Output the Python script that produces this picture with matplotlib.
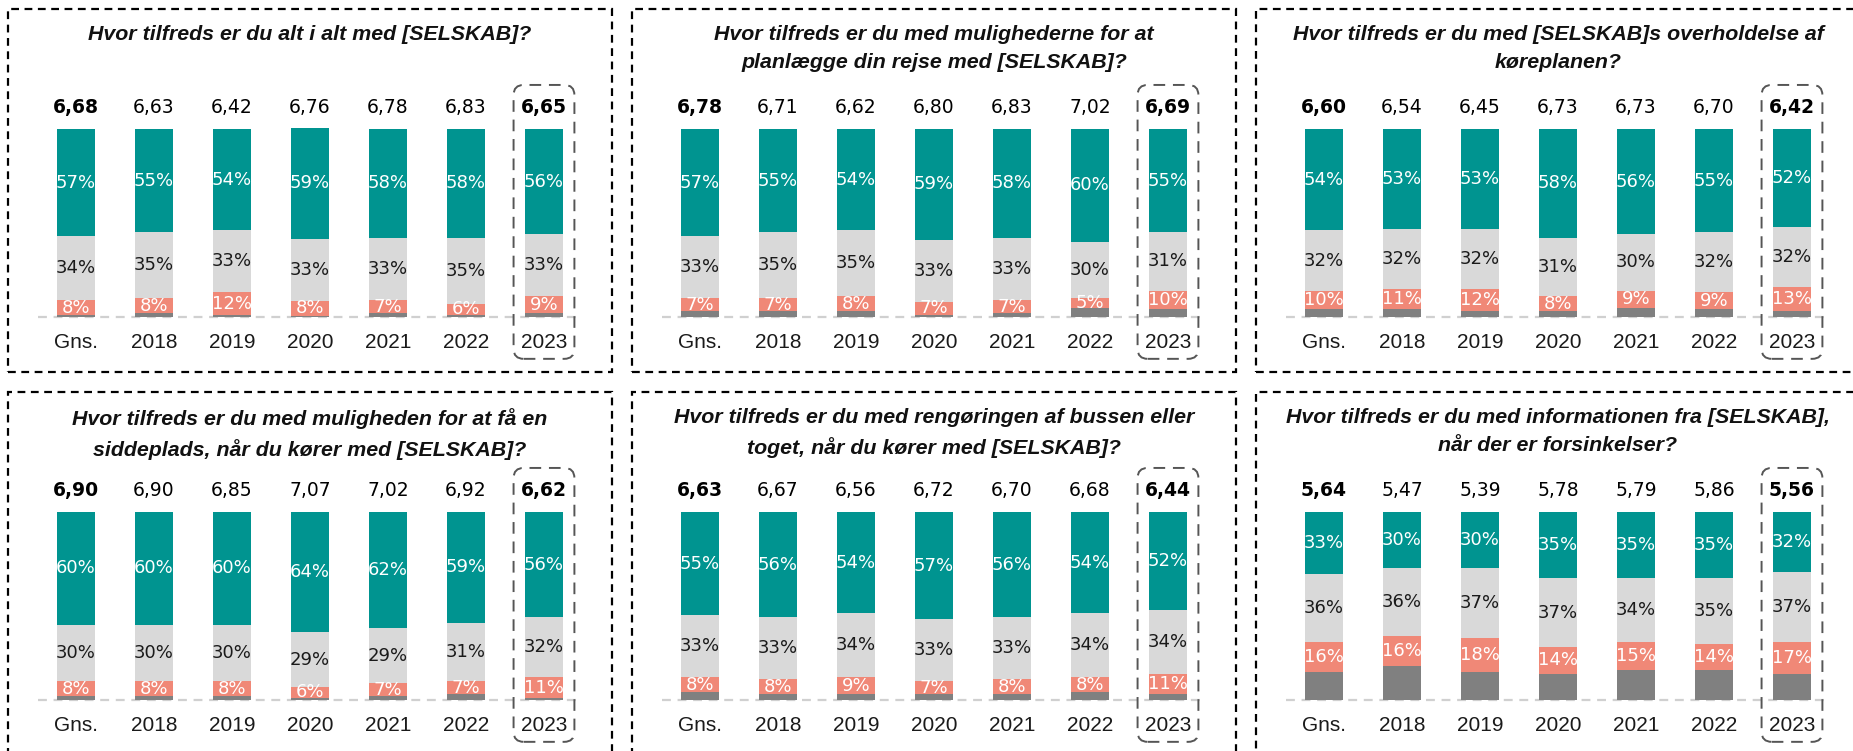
import matplotlib
matplotlib.use("Agg")
import matplotlib.pyplot as plt
from matplotlib.patches import Rectangle, FancyBboxPatch

# categories
years = ["Gns.", "2018", "2019", "2020", "2021", "2022", "2023"]

titles = [
    "Hvor tilfreds er du alt i alt med [SELSKAB]?",
    "Hvor tilfreds er du med mulighederne for at\nplanlægge din rejse med [SELSKAB]?",
    "Hvor tilfreds er du med [SELSKAB]s overholdelse af\nkøreplanen?",
    "Hvor tilfreds er du med muligheden for at få en\nsiddeplads, når du kører med [SELSKAB]?",
    "Hvor tilfreds er du med rengøringen af bussen eller\ntoget, når du kører med [SELSKAB]?",
    "Hvor tilfreds er du med informationen fra [SELSKAB],\nnår der er forsinkelser?",
]

# average score per bar
scores_1 = [6.68, 6.63, 6.42, 6.76, 6.78, 6.83, 6.65]
scores_2 = [6.78, 6.71, 6.62, 6.80, 6.83, 7.02, 6.69]
scores_3 = [6.60, 6.54, 6.45, 6.73, 6.73, 6.70, 6.42]
scores_4 = [6.90, 6.90, 6.85, 7.07, 7.02, 6.92, 6.62]
scores_5 = [6.63, 6.67, 6.56, 6.72, 6.70, 6.68, 6.44]
scores_6 = [5.64, 5.47, 5.39, 5.78, 5.79, 5.86, 5.56]

# satisfied (teal)
high_1 = [57, 55, 54, 59, 58, 58, 56]
high_2 = [57, 55, 54, 59, 58, 60, 55]
high_3 = [54, 53, 53, 58, 56, 55, 52]
high_4 = [60, 60, 60, 64, 62, 59, 56]
high_5 = [55, 56, 54, 57, 56, 54, 52]
high_6 = [33, 30, 30, 35, 35, 35, 32]

# neutral (light gray)
mid_1 = [34, 35, 33, 33, 33, 35, 33]
mid_2 = [33, 35, 35, 33, 33, 30, 31]
mid_3 = [32, 32, 32, 31, 30, 32, 32]
mid_4 = [30, 30, 30, 29, 29, 31, 32]
mid_5 = [33, 33, 34, 33, 33, 34, 34]
mid_6 = [36, 36, 37, 37, 34, 35, 37]

# dissatisfied (salmon)
low_1 = [8, 8, 12, 8, 7, 6, 9]
low_2 = [7, 7, 8, 7, 7, 5, 10]
low_3 = [10, 11, 12, 8, 9, 9, 13]
low_4 = [8, 8, 8, 6, 7, 7, 11]
low_5 = [8, 8, 9, 7, 8, 8, 11]
low_6 = [16, 16, 18, 14, 15, 14, 17]

# don't know (dark gray), unlabeled
dk_1 = [1, 2, 1, 0.5, 2, 1, 2]
dk_2 = [3, 3, 3, 1, 2, 5, 4]
dk_3 = [4, 4, 3, 3, 5, 4, 3]
dk_4 = [2, 2, 2, 1, 2, 3, 1]
dk_5 = [4, 3, 3, 3, 3, 4, 3]
dk_6 = [15, 18, 15, 14, 16, 16, 14]

panels = [
    (titles[0], scores_1, high_1, mid_1, low_1, dk_1),
    (titles[1], scores_2, high_2, mid_2, low_2, dk_2),
    (titles[2], scores_3, high_3, mid_3, low_3, dk_3),
    (titles[3], scores_4, high_4, mid_4, low_4, dk_4),
    (titles[4], scores_5, high_5, mid_5, low_5, dk_5),
    (titles[5], scores_6, high_6, mid_6, low_6, dk_6),
]

TEAL = "#009490"
LGRAY = "#d9d9d9"
SALMON = "#f08877"
DGRAY = "#808080"
NUMFONT = "DejaVu Sans"
W, H = 1853, 751

fig = plt.figure(figsize=(W / 100, H / 100), dpi=100)

col_left = [8, 632, 1256]
row_top = [9, 392]
pw, ph = 604, 363

for k, (title, scores, high, mid, low, dk) in enumerate(panels):
    L = col_left[k % 3]
    T = row_top[k // 3]
    ax = fig.add_axes([L / W, 1 - (T + ph) / H, pw / W, ph / H])
    ax.set_xlim(-0.872, 6.872)
    ax.set_ylim(-29.3, 163.8)
    ax.axis("off")

    x = range(len(years))
    ax.bar(x, dk, width=0.49, color=DGRAY, zorder=2)
    b1 = [d for d in dk]
    ax.bar(x, low, width=0.49, bottom=b1, color=SALMON, zorder=2)
    b2 = [d + l for d, l in zip(dk, low)]
    ax.bar(x, mid, width=0.49, bottom=b2, color=LGRAY, zorder=2)
    b3 = [b + m for b, m in zip(b2, mid)]
    ax.bar(x, high, width=0.49, bottom=b3, color=TEAL, zorder=2)

    for i in x:
        ax.text(i, b1[i] + low[i] / 2, f"{low[i]}%", ha="center", va="center",
                color="white", fontsize=13, family=NUMFONT, zorder=3)
        ax.text(i, b2[i] + mid[i] / 2, f"{mid[i]}%", ha="center", va="center",
                color="#1a1a1a", fontsize=13, family=NUMFONT, zorder=3)
        ax.text(i, b3[i] + high[i] / 2, f"{high[i]}%", ha="center", va="center",
                color="white", fontsize=13, family=NUMFONT, zorder=3)
        bold = i in (0, len(years) - 1)
        ax.text(i, 111.2, f"{scores[i]:.2f}".replace(".", ","), ha="center",
                va="center", fontsize=13.5, family=NUMFONT,
                fontweight="bold" if bold else "normal", color="black")
        ax.text(i, -13.8, years[i], ha="center", va="center", fontsize=15,
                family="Liberation Sans", color="#1a1a1a")

    # baseline
    ax.plot([-0.49, 6.47], [0, 0], color="#d0d0d0", lw=1.6,
            ls=(0, (4, 3)), zorder=1)

    # highlight box around the latest year
    ax.add_patch(FancyBboxPatch((5.61, -22.3), 0.78, 145.7,
                                boxstyle="round,pad=0,rounding_size=0.13",
                                mutation_aspect=41.5, fill=False,
                                ec="#555555", lw=1.4, ls=(0, (6, 4)),
                                zorder=4, clip_on=False))

    ax.text(3.0, 155.5, title, ha="center", va="top", fontsize=15.4,
            family="Liberation Sans", fontweight="bold", fontstyle="italic",
            linespacing=1.62, color="#111111")

    # dashed panel border
    ax.add_patch(Rectangle((0, 0), 1, 1, transform=ax.transAxes, fill=False,
                           ec="black", lw=1.6, ls=(0, (3.5, 2.5)),
                           clip_on=False, zorder=5))

fig.savefig("out.png", dpi=100, facecolor="white")
